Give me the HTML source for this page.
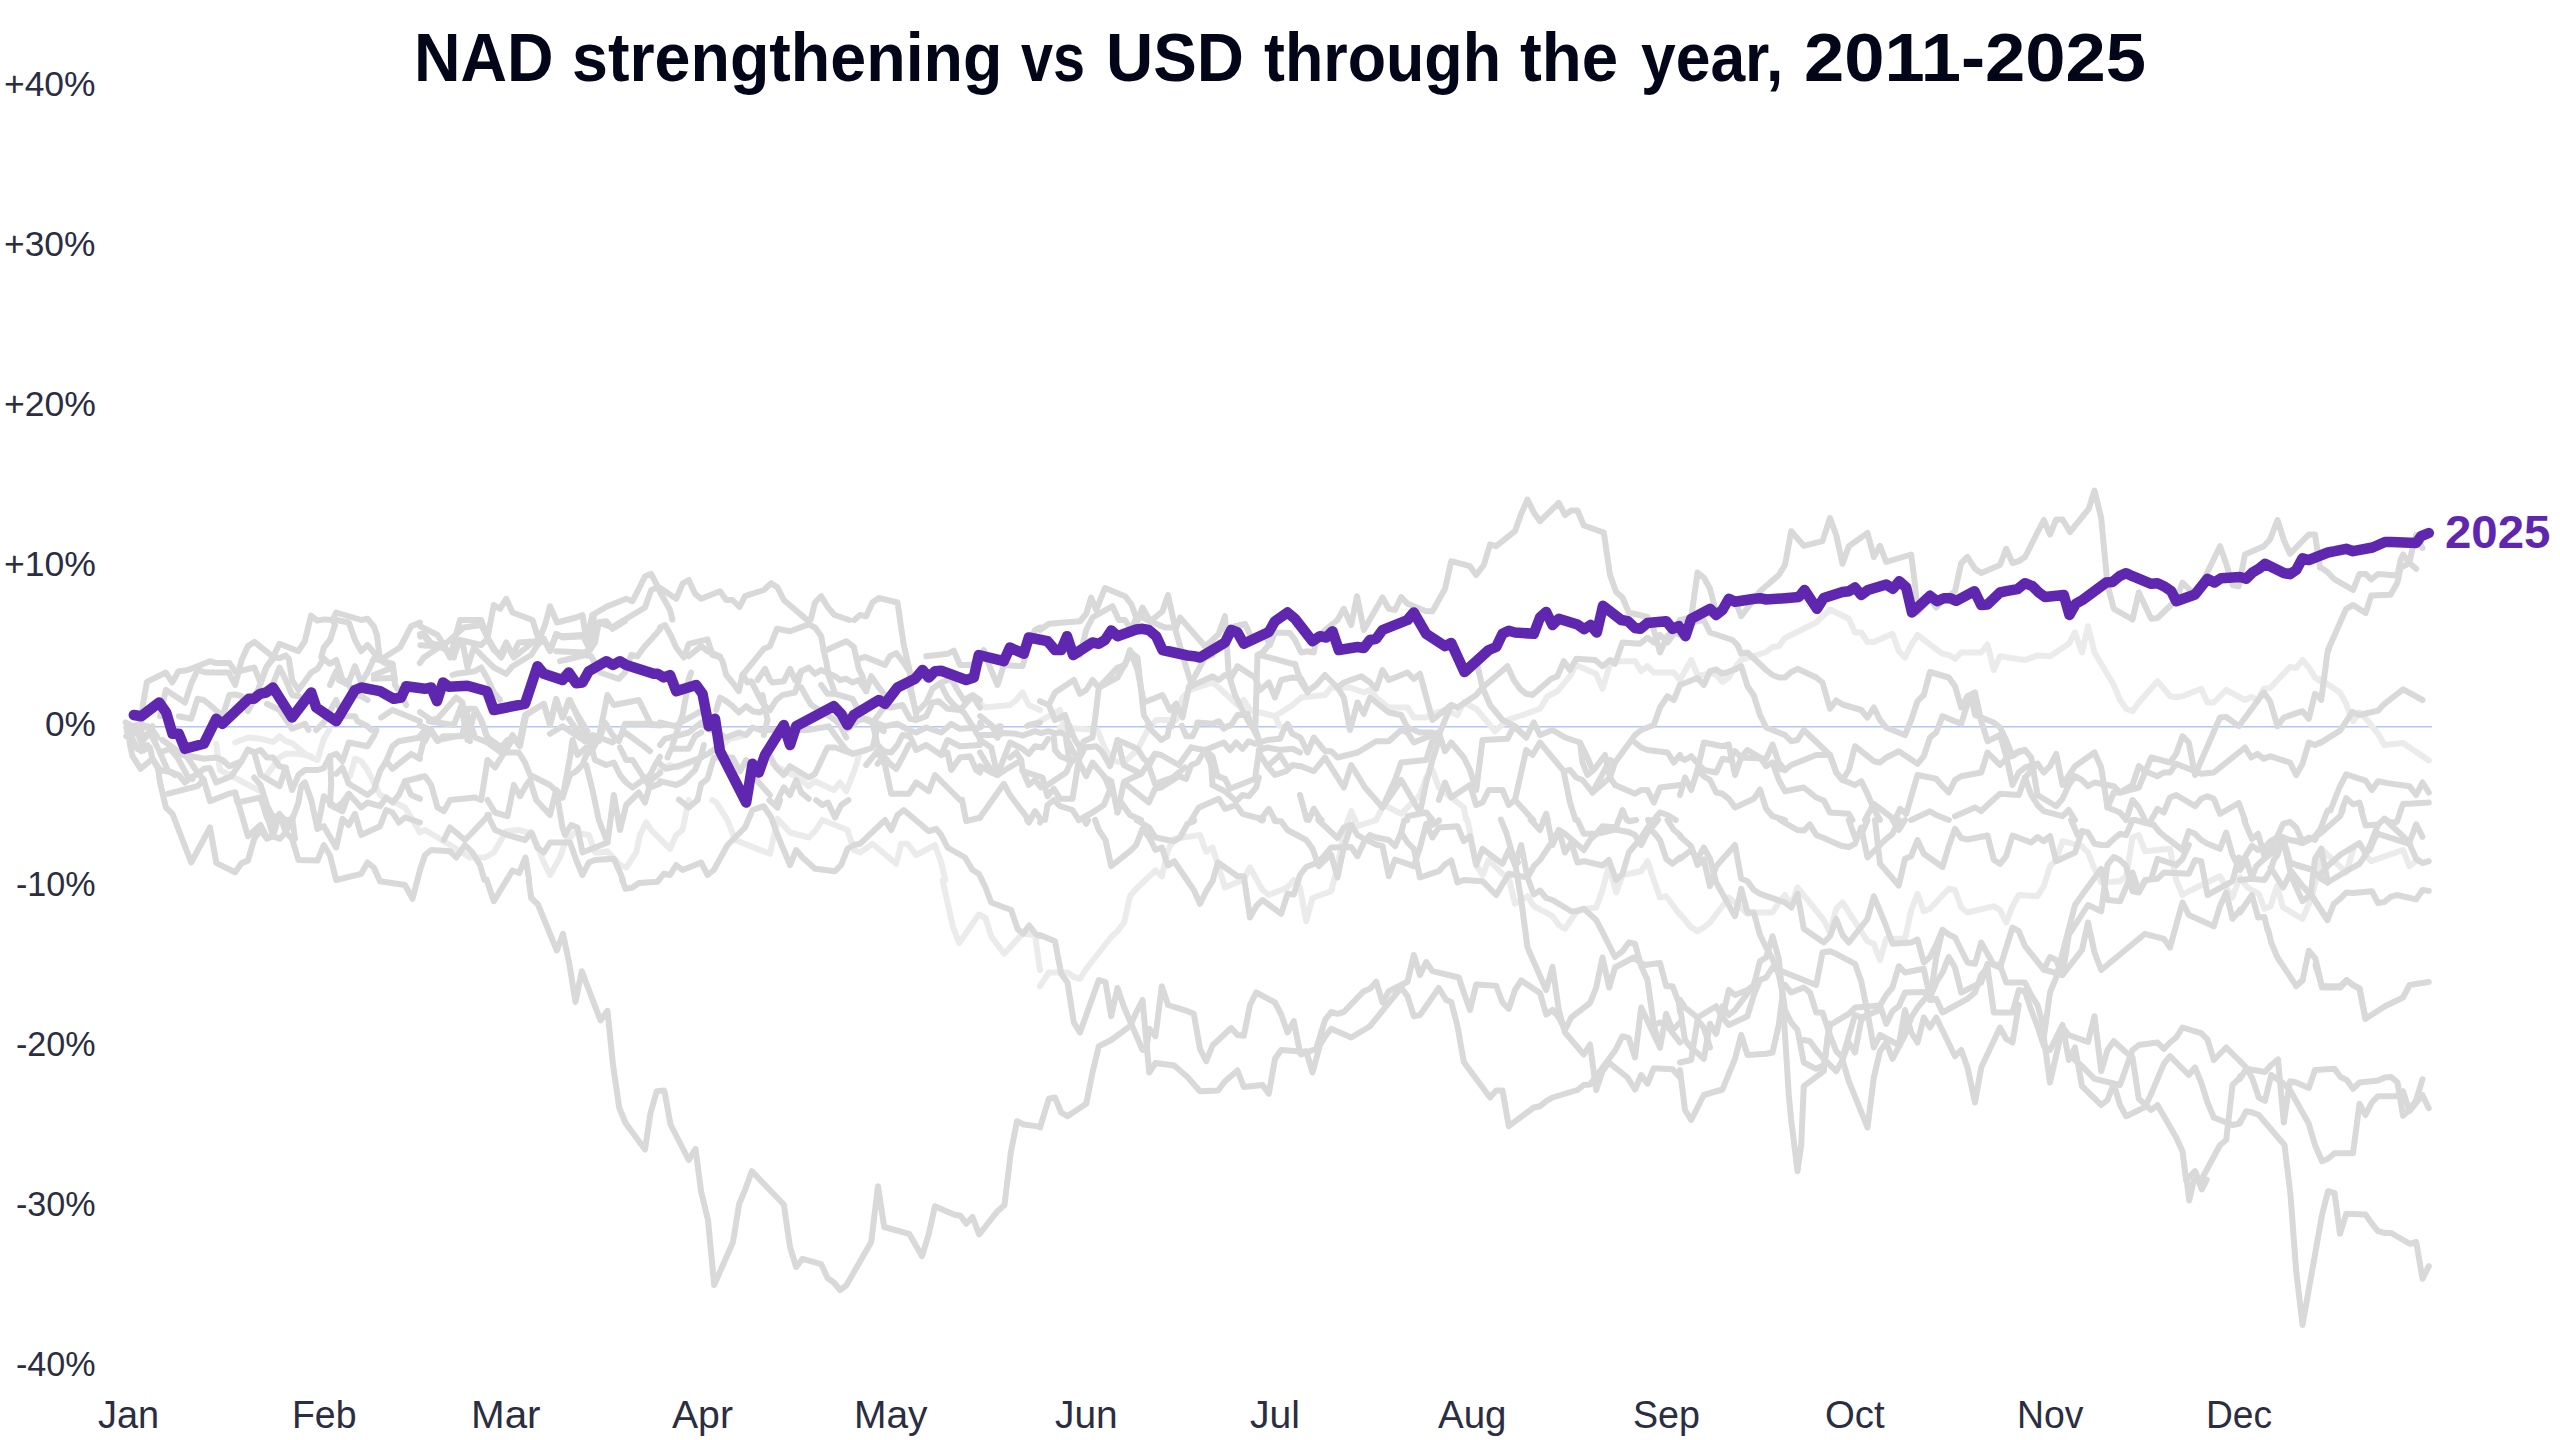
<!DOCTYPE html>
<html lang="en"><head><meta charset="utf-8"><title>NAD strengthening vs USD through the year, 2011-2025</title>
<style>
html,body{margin:0;padding:0;background:#fff;}
body{width:2560px;height:1440px;overflow:hidden;position:relative;font-family:"Liberation Sans",sans-serif;}
#chart{position:absolute;left:0;top:0;width:2560px;height:1440px;}
h1{margin:0;padding:0;font-size:0;font-weight:700;}
.t{position:absolute;display:block;line-height:1;white-space:nowrap;transform-origin:0 0;}
h1 .t{font-weight:700;color:#020618;}
.yl{color:#2b2d42;font-weight:400;}
.xl{color:#2b2d42;font-weight:400;}
.lab{color:#5f27b0;font-weight:700;}
svg path,svg polyline{fill:none;stroke-linejoin:round;stroke-linecap:round;}
.g{stroke:#d9d9d9;stroke-width:6.0;}
.gl{stroke:#ebebeb;stroke-width:6.0;}
.p{stroke:#5f27b0;stroke-width:10.5;}
</style></head><body>
<svg id="chart" width="2560" height="1440" viewBox="0 0 2560 1440">
<line x1="128" y1="726.8" x2="2432" y2="726.8" stroke="#b3c5fb" stroke-width="1.6"/>
<g class="gl">
<path d="M942.6 880.4 L953 927 L959.2 943 L978.8 914.5 L985.5 918 L991.2 936.2 L1004.2 953.8 L1022.5 933.8 L1035 935 L1040 970"/>
<path d="M235.2 742.5 L247.9 737.5 L260.6 738.8 L273.1 741.9 L279.5 736.2 L285.8 741.2 L292.1 743.1 L305 753.8 L311.2 757.5 L317.5 760 L323.8 738.8 L329.5 729.6"/>
<path d="M216.2 743.8 L220 770 L229.4 775 L260.6 791.2"/>
<path d="M266.9 775 L279.5 757.5 L285.8 753.8 L298.4 753.8 L311.2 756.2"/>
<path d="M350 776.2 L355 758.8 L361.2 761.2 L367.5 770 L380 795 L405 807.5 L411.2 817.5 L420 832.5"/>
<path d="M640 835 L646.2 822.5 L651.2 830 L670 848.8 L676.2 835 L682.5 830 L688.8 800M712.3 800.2 L716.2 802.5 L727.5 820 L735 840 L770 853.8 L777.5 818.8 L790 832.5 L808.8 837.5 L815 831.2 L822.5 820 L847.5 830 L853.8 850 L860 852.5 L872.5 843.8 L896.2 863.8 L901.2 843.8 L907.5 843.8 L916.2 855 L935 845 L941.2 862.5 L945.3 879.8"/>
<path d="M419.6 832.1 L425 830 L462.5 852.5 L470 857.5 L485 857.5 L493.8 852.5 L506.2 831.2 L518.8 830 L532.5 833.8 L543.8 862.5 L550 875 L560 857.5 L565 842.5 L575 832.5 L588.8 835 L595 852.5 L600 852.5 L607.5 851.2 L620 865 L626.2 867.5 L636.2 852.5 L640 835"/>
<path d="M979.9 703.4 L985 707.5 L1010 705 L1016.2 700 L1022.5 692.5 L1028.8 705 L1040 710"/>
<path d="M1040 721.2 L1060 710 L1064 726.2M1151.2 726 L1156.2 720 L1176.2 720 L1182.5 697.5 L1190 690 L1212.5 682.5 L1218.8 687.5 L1237.5 705 L1243.8 700 L1250 710 L1275 716.2 L1279.3 725.7"/>
<path d="M1275 716.2 L1292.5 705 L1301.2 697.5 L1325 695 L1331.2 687.5 L1350 687.5 L1363.8 692.5 L1370 690 L1376.2 697.5 L1388.8 707.5 L1407.5 707.5 L1413.8 717.5 L1426.2 717.5 L1432.5 713.8 L1445 710 L1457.5 715 L1463.8 702.5 L1476.2 708.8 L1495 731.2 L1507.5 720 L1526.2 713.8 L1540 708.8 L1547.5 696.2 L1557.5 691.2 L1570 676.2 L1576.2 665 L1590 671.2 L1596.2 673.8 L1602.5 688.8 L1610 663.8 L1616.2 661.2 L1635 661.2 L1641.2 671.2 L1647.5 666.2 L1653.8 672.5 L1673.8 672.5 L1680 680"/>
<path d="M1348.4 819.7 L1351.2 811.2 L1354.9 820.1M1376.2 820 L1382.5 807.5"/>
<path d="M1388.8 807.5 L1401.2 813.8 L1420 795 L1426.2 777.5 L1432.5 770 L1438.8 787.5 L1451.2 797.5 L1463.8 807.5 L1466.1 819.9"/>
<path d="M1040 986.2 L1048.8 972.5 L1067.5 972.5 L1073.8 977 L1080 978.8 L1086.2 968.8 L1111.2 937 L1117.5 931.2 L1124.2 922.5 L1130 896.2 L1136.2 888.8 L1155.5 870.5 L1161.8 876.2 L1168 850 L1174.2 838.8 L1200 835 L1206.2 852 L1212.5 847.5 L1225 887.5 L1243.8 879.5 L1250 867.5 L1262.5 890 L1268.8 895 L1287.5 887.5 L1293.8 880 L1300 887.5 L1306.2 921.2 L1312.5 898 L1331.2 891.2 L1337.5 866.2 L1343.8 832.5 L1348.3 819.6M1354.9 820.1 L1357.5 826.2 L1376.2 820"/>
<path d="M1467.5 820 L1470 832.5 L1476.2 865 L1482.5 875 L1488.8 860 L1502.5 873.8 L1508.8 877.5 L1515 903.8 L1527.5 896.2 L1533.8 906.2 L1552.5 916.2 L1558.8 925 L1565 928.8 L1577.5 910 L1596.2 907.5 L1602.5 890 L1608.8 866.2 L1616.2 892.5 L1622.5 875 L1641.2 871.2 L1647.5 861.2 L1653.8 880 L1660 897.5 L1666.2 896.2 L1680 915"/>
<path d="M1680 680 L1691.2 660 L1697.5 675 L1703.8 675 L1710 672.5 L1716.2 675 L1722.5 682 L1728.8 677.5 L1735 667.5 L1741.2 660 L1766.2 652 L1772.5 647 L1778.8 646.2 L1785 638 L1816.2 622.5 L1830 609.5 L1848.8 618.8 L1855 632.5 L1861.2 632.5 L1867.5 642 L1873.8 642 L1892.5 633.8 L1898.8 651.2 L1905 657.5 L1911.2 645 L1917.5 635 L1942.5 653.8 L1948.8 655 L1955 658.8 L1961.2 652.5 L1981.2 652.5 L1987.5 644.5 L1993.8 670 L2000 656.2 L2025 660 L2037.5 655.5 L2050 656.2 L2068.8 643.8 L2075 632.5 L2082 652.5 L2088 626.2 L2094.5 652.5 L2113.8 685 L2120 700 L2126.2 708.8 L2132.5 711.2 L2138.8 702.5 L2157.5 681.2 L2170 696.2 L2176.2 697 L2182.5 696.2 L2201.2 688.8 L2207.5 702.5 L2213.8 702.5 L2226.2 690 L2245 700 L2251.2 697 L2257.5 700 L2263.8 688.8 L2270 688 L2290 667 L2296.2 668 L2302.5 660 L2308.8 667.5 L2315 677.5 L2320 681.2"/>
<path d="M1680 913.8 L1691.2 927.5 L1697.5 931.2 L1703.8 927.5 L1710 922.5 L1728.8 897.5 L1735 902.5 L1747.5 913.8 L1753.8 912.5 L1772.5 912.5 L1778.8 902.5 L1785 895 L1791.2 905 L1797.5 887.5 L1823.8 920 L1830 932.5 L1836.2 908.8 L1842.5 902.5 L1867.5 941.2 L1873.8 943.8 L1880 960 L1886.2 938.8 L1905 938.8 L1911.2 910 L1917.5 893.8 L1923.8 911.2 L1930 908.8 L1948.8 888.8 L1955 890 L1961.2 907.5 L1967.5 912.5 L1993.8 906.2 L2000 910 L2006.2 922.5 L2012.5 906.2 L2018.8 895 L2037.5 896.2 L2043.8 886.2 L2050 866.2 L2056.2 860 L2062.5 841.2 L2082 846.2 L2088 852.5 L2094.5 868.8 L2101.2 882.5 L2120 881.2 L2126.2 876.2 L2132.5 837.5 L2138.8 835 L2145 851.2 L2170 848.8 L2176.2 880 L2182.5 895 L2188.8 891.2 L2220 876.2 L2226.2 887.5 L2232.5 897.5 L2238.8 880 L2239.6 880.5"/>
<path d="M2319.8 678.9 L2340 692.5 L2346.2 703.8 L2350 715 L2353.1 721.2 L2359.4 712.5 L2365.6 718.1 L2378.1 733.8 L2384.4 745 L2403.1 743.1 L2428.8 760.6"/>
<path d="M2321.2 848.8 L2346.2 872.5 L2353.1 850"/>
<path d="M2365.6 855 L2371.2 861.2 L2403.1 850 L2409.4 866.2 L2416.2 861.2"/>
<path d="M2240 877.5 L2247.5 887.5 L2258.8 893.8 L2264.4 908.8 L2270.6 906.2 L2276.9 886.2 L2283.1 907.5 L2302.5 918.8 L2311.2 898.8 L2317.5 875 L2321.2 852.5"/>
<path d="M660 770 L670 765 L677.5 767.5 L695 761.2 L710 752.5 L722.5 745 L730 738.8 L746.2 735"/>
<path d="M772.5 763.8 L790 773.8 L796.2 776.2 L808.8 786.2 L815 781.2 L833.8 790 L840 782.5 L846.2 791.2 L855 768.8 L858.8 756.2"/>
<path d="M1060 727.5 L1097.5 730 L1103.8 746.2 L1110 757.5 L1115 761.2 L1123.8 762.5 L1137.5 750 L1143.8 737.5 L1148.8 727.5 L1150 726"/>
</g>
<g class="g">
<path d="M486.6 879.7 L493.8 901.2 L506.9 879.6M528.7 880.2 L531.2 898 L538 904.5 L556.8 950.5 L563 933.8 L569.2 963 L575.5 1002 L581.8 971.2 L600.5 1020.5 L607.5 1010.8 L613 1065 L619.2 1107.5 L625.5 1123 L645 1149.5 L650.5 1113 L656.8 1091.2 L663.8 1090.5"/>
<path d="M622 879.7 L625.5 888.8 L632.5 887.5 L638.8 883 L657.5 881.8 L658.6 880.2"/>
<path d="M981.9 880.4 L985 886.2 L991.2 902.5 L1011.2 910 L1017.5 928.8 L1023 933.8 L1029.2 925.5 L1036.2 934.5 L1040 935.9"/>
<path d="M664.5 1091.2 L670.5 1124.5 L688.8 1160 L695.5 1148.8 L701.2 1192 L708 1220 L714.2 1285 L733 1242 L739.2 1203.8 L745.5 1188.8 L751.8 1171.2 L783.8 1204.5 L790 1247 L796.2 1267 L802.5 1258.8 L821.2 1264.2 L827.5 1278 L833.8 1282.5 L840 1290 L846.2 1285.5 L871.2 1242 L878 1186.2 L884.2 1227 L909.2 1233.8 L922 1256.2 L928.8 1233.8 L935 1206.2 L953.8 1214.5 L960.5 1215.8 L966.2 1223.8 L972.5 1217 L979.2 1234.5 L997.5 1211.2 L1004.5 1205 L1010.8 1152.5 L1017 1121.2 L1023.8 1124.5 L1039.5 1126.6"/>
<path d="M2240 1123.2 L2246.2 1111.2 L2252.5 1112.5 L2258.8 1115 L2284.5 1145 L2290.5 1195 L2296.2 1271.2 L2302.5 1325 L2322 1215 L2328 1191.2 L2334.5 1193 L2340 1233.8 L2346.2 1213.8 L2365.5 1214.5 L2372.5 1224.5 L2378 1231.2 L2385 1233 L2391.2 1233 L2410 1243.8 L2416.2 1242 L2422.5 1278.8 L2428.8 1266.2"/>
<path d="M2186.6 1179.7 L2189.2 1200.5 L2193.8 1180.2M2198.1 1179.7 L2201.8 1189.5 L2206.7 1179.8M2240 1078.8 L2246.2 1068.8 L2265 1072 L2271.2 1065 L2278 1059.5 L2283.8 1122.5 L2290 1081.2 L2296.2 1082.5 L2308.8 1088 L2315 1070 L2334.5 1068.8 L2340.5 1077 L2346.8 1080 L2353 1088.8 L2359.5 1082.5 L2378 1080.5 L2385 1077.5 L2391.2 1077 L2397.5 1082.5 L2403 1115.8 L2409.5 1110 L2416.2 1100 L2422.5 1079.2"/>
<path d="M2240 1061.1 L2246.2 1067.5 L2252.5 1078.8 L2258.8 1097.5 L2265 1100.8 L2271.2 1075 L2283.8 1083.8 L2290 1090 L2308.8 1123.8 L2315 1145 L2322 1161.2 L2328 1158.8 L2334.5 1153.2 L2353 1153.2 L2359.5 1103.8 L2365.5 1115 L2371.8 1102.5 L2378 1096.2 L2397.5 1096.2 L2403 1091.2 L2409.5 1111.2 L2422.5 1095 L2428.8 1108.2"/>
<path d="M2296.2 986.2 L2302.5 980"/>
<path d="M2315.5 965 L2322 986.2 L2340.5 986.2 L2346.8 980 L2353 985 L2359.5 988.8 L2365.5 1018.8 L2385 1006.2 L2403 997.5 L2409.5 985 L2428.8 982"/>
<path d="M140.6 726.2 L143.1 703.8 L146.9 681.9 L165.9 672.5 L172.2 682.5 L178.5 671.2 L185 670.6 L191.2 668.8 L210 661.2 L216.4 663.1 L229.4 663.1 L235.6 671.9 L241.6 670.6 L254.4 667.5 L260.6 683.1 L266.9 666.2 L273.1 657.5 L279.5 658.1 L285.8 655.6 L288.8 658.8 L292.1 680 L298.4 690 L311.2 672.5 L317.4 668.8 L323.8 658.8 L330 663.8 L336.2 660 L342.5 680 L348.8 681.9 L355 666.2 L361.2 682.5 L367.5 672.5 L373.8 658.8 L380 660 L386.2 663.8 L392.5 663.8 L395 685 L400 692.5 L406.2 705"/>
<path d="M160 716.2 L165.9 690 L185 702.5 L191.2 683.8 L197.5 670 L203.8 671.9 L210 672.5 L228.8 672.5 L235.2 685 L241.6 660 L247.9 646.2 L254.4 641.9 L273.1 656.9 L279.5 643.8 L298.4 651.2 L304.8 641.2 L311 615.6 L317.4 620.6 L323.8 619.4 L332.5 620 L336.2 612.5 L361.2 620 L367.5 618.8 L373.8 626.2 L376.9 635 L380 660 L400 647.5 L411.2 626.2 L420 622.5"/>
<path d="M332.5 620 L335 625 L330 640"/>
<path d="M330 640 L323.8 647.5 L321.2 657.5 L323.8 658.8"/>
<path d="M336.2 620 L348.8 622.5 L355 640 L361.2 651.2 L367.5 645 L373.8 652.5 L380 660 L392.5 663.8 L395 680"/>
<path d="M373.8 675 L392.5 667.5"/>
<path d="M373.8 678.8 L392.5 678.1"/>
<path d="M178.8 716.2 L191.2 718.8 L197.5 698.8 L203.8 700 L210 705 L222.5 716.2 L229.4 695 L235.2 694.4 L241.6 696.2 L247.9 711.2 L254.4 698.8 L260.6 683.1"/>
<path d="M266.9 703.8 L279.5 710 L292.1 728.8 L305 723.8 L308.4 729.8M316.1 730.1 L323.8 722.5 L336.2 700 L342.5 716.2 L355 716.2 L357.5 721.2 L367.5 726.2 L370.9 729.7"/>
<path d="M381.2 717.5 L392.5 710 L420 721.2"/>
<path d="M128.3 730.4 L130 745 L132.5 756.2 L140.6 768.8 L152.5 758.8 L158.1 768.8 L160 782.5 L165.9 807.5 L172.5 813.8 L191.2 862.5 L210 827.5 L216.4 863.1 L235.2 872.2 L241.6 863.1 L247.9 860.6 L254.2 838.8 L260.6 830 L266.9 838.8 L273.1 836.2 L279.5 838.8 L285.8 832.5 L292.1 838.8 L298.4 860 L317.5 860.6 L323.8 845 L330 855.6 L336.2 880 L361.2 873.8 L367.5 862.5 L373.8 867.5 L380 881.2 L405 885 L412.5 898.8 L420 870"/>
<path d="M152.5 758.8 L160 770 L172.5 772.5 L178.8 775 L185 782.5 L191.2 777.5 L197.5 773.8 L203.8 768.8 L210 768.1 L216.2 782.5 L231.2 776.2 L241.6 761.2 L247.9 749.4 L254.2 752.5 L260.6 750 L266.9 757.5 L273.1 757.5 L279.5 766.2 L285.8 768.1 L292.1 790 L298.4 775 L305 770 L317.5 770 L323.8 768.1 L330 756.2 L336.2 753.8 L342.5 761.2 L348.8 742.5 L367.5 746.2 L373.8 736.2 L376.4 730.1"/>
<path d="M167.5 793.8 L197.5 786.2 L203.8 780 L210 801.2 L228.8 793.8 L235.2 792.5 L237.5 802.5 L260.6 797.5 L266.9 817.5 L273.1 826.2 L279.5 815 L285.8 820 L292.1 820 L298.4 802.5 L301.2 786.2 L305 782.5 L311.2 800 L317.5 828.8 L323.8 796.2 L330 802.5 L336.2 807.5 L342.5 802.5 L348.8 793.8 L361.2 807.5 L367.5 802.5 L380 806.2 L386.2 797.5 L392.5 802.5 L398.8 795 L405 781.2 L420 777.5"/>
<path d="M175 752.5 L185 755 L203.8 758.8 L216.2 757.5 L222.5 760 L229.4 766.2 L241.6 761.2"/>
<path d="M235.2 792.5 L247.9 836.2 L260.6 825 L266.9 837.5 L273.1 836.2"/>
<path d="M254.2 777.5 L260.6 785 L266.9 805 L273.1 817.5 L279.5 815"/>
<path d="M317.5 828.8 L323.8 826.2 L336.2 847.5 L342.5 818.8 L348.8 825 L355 813.8 L361.2 835 L380 826.2 L386.2 810 L392.5 812.5 L398.8 822.5 L405 817.5 L420 822.5"/>
<path d="M254.2 752.5 L260.6 775 L279.5 786.2 L285.8 767.5"/>
<path d="M330 756.2 L331.2 782.5 L330 805 L342.5 811.2 L348.8 793.8"/>
<path d="M336.2 773.8 L342.5 767.5 L348.8 783.8 L367.5 795 L373.8 790 L380 771.2 L386.2 761.2 L392.5 768.8 L411.2 753.8 L420 758.8"/>
<path d="M386.2 761.2 L392.5 746.2 L398.8 741.2 L420 737.5"/>
<path d="M405 781.2 L411.2 795 L420 798.8"/>
<path d="M592.5 615 L607.5 606.2 L626.2 598.8 L632.5 601.2 L638.8 588.8 L645 576.2 L651.2 573.8 L657.5 586.2 L676.2 598.8 L682.5 583.8 L688.8 580 L695 593.8 L701.2 598.8 L720 591.2 L726.2 600 L732.5 600 L739.5 607 L745 596.2 L763.8 590 L771.2 583.2 L777.5 587.5 L783.8 600 L807 619.9M810.7 619.6 L815 602.5 L821.2 596.2 L828 607.5 L834.5 615 L849.3 620M854.4 620 L860 615 L866.2 616.2 L872.5 602.5 L878.8 598 L897.5 602.5 L900.1 620.3"/>
<path d="M592.5 637.5 L598.8 622.5 L612.5 627.5 L620 622.5 L645 607.5 L651.2 590 L657.5 587.5 L670 610 L672.4 619.6"/>
<path d="M420.1 626.3 L437.5 635 L443.8 645 L450 657.5 L460 620 L481.2 620 L487.5 637.5 L493.8 605 L500 608.8 L506.2 598.8 L512.5 612.5 L532.5 620 L538.8 640 L545 625 L550 606.2 L557 622.5 L576.2 617.5 L582.5 615 L586.2 640 L592.5 615"/>
<path d="M420.3 636.6 L425 635 L432.5 645 L443.8 645 L450 640 L463.8 627.5 L481.2 625 L487.5 637.5 L495 650 L501.2 657.5 L507.5 645 L513.8 657.5 L520 652.5 L532.5 642.5 L545 641.2 L550 650 L556.2 635 L562.5 636.2 L582.5 635 L590 650 L595 642.5 L598.8 622.5"/>
<path d="M980.1 658.8 L983.8 650 L990 667.5 L997.5 685 L1003.8 665 L1022.5 666.2 L1028.8 645 L1035 630 L1040 627.5"/>
<path d="M420 870 L425 855 L431.2 850 L450 851.2 L456.2 857.5 L465 845 L472.5 852.5 L480 865 L484.4 879.8M506.9 879.6 L512.5 870.5 L519.2 873 L525.5 857.5 L529.2 879.7"/>
<path d="M443.8 840 L450 827.5 L465 840 L470 835 L488.8 815"/>
<path d="M537.5 847.5 L543.8 852.5 L550 842.5 L570 842.5 L576.2 860 L582.5 875 L588.8 862.5 L595 860 L613.8 858.8 L620 872.5 L622.8 879.7M658.8 879.8 L663.8 873.8 L670 875 L676.2 865 L682.5 870 L701.2 862.5 L707.5 875 L713.8 870 L727.5 845 L745 827.5 L752.5 810 L763.8 806.2 L771.2 817.5 L777.5 835 L790 865 L796.2 850 L802.5 857.5 L815 868.8 L835 871.2 L841.2 865 L847.5 848.8 L853.8 845 L860 843.8 L885 820 L891.2 830 L897.5 815 L903.8 810 L928.8 831.2 L936.2 828.8 L941.2 835 L947.5 847.5 L965 857.5 L972.5 870 L978.8 873.8 L982 879.8"/>
<path d="M420 712.1 L431.2 720 L437.5 718.8 L456.2 697.5 L462.5 702.5 L467.5 740 L475 710 L481.2 720 L487.5 737.5 L501.2 747.5 L507.5 740 L513.8 737.5 L520 746.2 L526.2 715 L543.8 703.8 L550 725 L556.2 700 L562.5 717.5 L570 700 L582.5 727.5 L590 742.5 L595 760 L606.2 765 L613.8 762.5 L620 775 L626.2 782.5 L632.5 787.5 L650 775 L655 765 L660 756.7M980.2 716.2 L991.2 725 L991.7 725.9"/>
<path d="M419.6 725.4 L431.2 730 L437.5 740 L462.5 735 L467.5 715 L475 737.5 L487.5 742.5 L501.2 752.5 L518.8 752.5 L525 762.5 L530 775 L550 785 L562.5 797.5 L570 775 L576.2 771.2 L582.5 765 L586.2 755 L592.5 750 L598.8 737.5 L607.5 695 L613.8 705 L638.8 700 L645 712.5 L651.2 725 L660.1 725.6"/>
<path d="M420 736 L425 730 L431.2 732.5 L437.5 740"/>
<path d="M420 755.2 L425 735 L431.2 730"/>
<path d="M420.2 777 L425 776.2 L431.2 785 L437.5 807.5 L443.8 811.2 L450 800 L475 797.5 L481.2 800 L487.5 760 L495 767.5 L501.2 757.5 L507.5 747.5 L513.8 737.5"/>
<path d="M487.5 800 L495 812.5 L507.5 816.2 L513.8 785 L520 796.2 L526.2 785 L530 780 L536.2 800 L550 815 L556.2 790 L562.5 797.5 L570 757.5 L572.5 740 L577.5 755 L586.2 747.5"/>
<path d="M487.5 815 L495 830 L507.5 835 L525 840 L531.2 832.5 L537.5 847.5"/>
<path d="M556.2 790 L562.5 827.5 L565 835 L571.2 825 L577.5 827.5 L582.5 852.5 L607.5 842.5 L613.8 795 L620 830 L626.2 805 L638.8 792.5 L645 802.5 L651.2 780 L660.2 772.8"/>
<path d="M586.2 765 L592.5 790 L598.8 820 L607.5 842.5"/>
<path d="M620 747.5 L626.2 760 L632.5 760 L638.8 770 L650 787.5 L659.8 783.6M679 799.7 L688.8 807.5 L697.5 800M769.4 800.2 L777.5 807.5 L780.1 800.1M816.1 800.2 L822.5 805 L828 802.5 L835 817.5 L841.2 805 L848.6 800.1M962 799.8 L966.2 821.2 L980.3 817.5M1027.1 820.1 L1028.8 822.5 L1030.3 820"/>
<path d="M980.1 722.7 L981.9 726.2M990.6 725.8 L991.2 725 L992.7 726.2M1027.1 726 L1028.8 725 L1040 722.5"/>
<path d="M1337.5 620 L1343.8 608.8 L1351.2 625 L1357 596.2 L1363.8 630 L1382.5 597.5 L1388.8 608.8 L1395 610 L1401.2 597 L1407.5 603.8 L1426.2 611.2 L1432.5 611.2 L1445 588.8 L1451.2 561.2 L1470 566.2 L1476.2 575 L1483.8 565 L1490 544.5 L1496.2 546.2 L1515 531.2 L1521.2 513.8 L1527.5 499.5 L1533.8 512.5 L1540 521.2 L1558.8 503 L1565 515 L1571.2 510.5 L1577.5 510.5 L1583.8 525.5 L1603.8 532.5 L1610 575 L1616.2 592 L1622.5 597.5 L1628.8 612.5 L1647.5 617 L1653.8 630 L1660 652.5 L1667.5 636.2 L1675 627.5 L1680 620"/>
<path d="M1040 630 L1048.8 623.8 L1080 621.2 L1086.2 613.8 L1091.2 597.5 L1096.2 610 L1105 588 L1125 596.2 L1131.2 603.8 L1137.5 621.2 L1142.5 607.5 L1150 621.2 L1155 617.5 L1162.5 611.2 L1168 595 L1176.2 632.5 L1182.5 655 L1190 680"/>
<path d="M1080 655 L1086.2 630 L1092.5 617.5 L1112.5 606.2 L1118.8 620 L1125 620 L1131.2 630 L1137.5 615 L1150 621.2 L1165 627.5 L1176.2 627.5 L1180 617.5 L1205 646.2 L1212.5 640 L1218.8 633.8 L1225 616.2 L1228.8 675 L1235 695 L1247.5 720 L1251.1 725.8"/>
<path d="M1228.8 632.5 L1235 626.2 L1245 623.8 L1252.5 640 L1265 635 L1270 645 L1275 632.5 L1290 633 L1295 640 L1301.2 652.5 L1307.5 651.2 L1313.8 652.5 L1316.2 640 L1325 630 L1337.5 620"/>
<path d="M1040 701.2 L1048.8 705 L1055 720 L1065 715 L1068.9 726.1M1094.2 726.1 L1098.8 687.5 L1117.5 677.5 L1131.2 652.5 L1137.5 657.5 L1143.8 715 L1150 725 L1150.7 725.7M1171.8 726.2 L1176.2 703.8 L1182.5 717.5 L1188.8 687.5 L1205 657.5 L1212.5 655"/>
<path d="M1048.8 705 L1055 692.5 L1073.8 680 L1080 693.8 L1086.2 690 L1092.5 680 L1098.8 687.5 L1117.5 667.5 L1125 665 L1130 650 L1137.5 670 L1143.8 702.5 L1162.5 695 L1170 710 L1176.2 703.8"/>
<path d="M1188.8 687.5 L1212.5 676.2 L1218.8 680 L1225 675 L1231.2 677.5 L1237.5 666.2 L1255 677.5 L1260 690 L1268.8 682.5 L1275 697.5 L1281.2 680 L1292.5 677.5 L1301.2 678.8 L1307.5 691.2 L1316.2 685 L1325 675 L1337.5 687.5 L1343.8 682.5 L1361.2 676.2 L1370 682.5 L1376.2 688.8 L1382.5 670 L1388.8 680 L1407.5 672.5 L1413.8 678.8 L1420 673.8 L1432.5 720 L1451.2 705 L1457.5 707.5 L1476.2 695 L1482.5 687.5 L1507.5 666.2 L1513.8 680 L1520 688.8 L1526.2 693.8 L1532.5 695 L1551.2 678.8 L1557.5 676.2 L1563.8 661.2 L1570 670 L1576.2 658.8 L1595 660 L1602.5 666.2 L1610 660 L1615 663.8 L1622.5 642.5 L1640 643.8 L1647.5 637.5 L1653.8 642.5 L1660 635 L1667.5 642.5 L1675 632.5 L1680 635"/>
<path d="M1255.4 725.6 L1257.5 655 L1262.5 652.5 L1268.8 645"/>
<path d="M1260 655 L1292.5 663.8 L1295 663.8 L1301.2 682.5 L1307.5 692.5"/>
<path d="M1337.5 687.5 L1343.8 697.5 L1350 730 L1357.5 702.5 L1363.8 713.8 L1370 697.5 L1388.8 712.5 L1401.2 715 L1407.5 727.5 L1420 732.5 L1432.5 732.5 L1438.8 735 L1451.2 705"/>
<path d="M1463.8 672.5 L1476.2 660 L1482.5 687.5 L1490 705 L1502.5 720 L1515 726.2 L1526.2 737.5 L1533.8 722.5 L1540 735 L1552.5 730 L1565 737.5 L1580 742.5 L1587.5 757.5 L1592.5 770"/>
<path d="M1592.5 792.5 L1610 777.5 L1615 762.5 L1635 735 L1641.2 730 L1653.8 725 L1660 707.5 L1667.5 696.2 L1673.8 700 L1680 685"/>
<path d="M1635 742.5 L1641.2 747.5 L1647.5 750 L1667.5 752.5 L1673.8 762.5 L1680 755"/>
<path d="M1196.4 726.2 L1197.5 722.5 L1212.5 723.8 L1218.8 721.2 L1222.5 725.8M1229.7 725.9 L1231.2 725 L1237.5 715 L1247.5 713.8 L1251.4 726.1M1286.8 725.6 L1287.5 723.8 L1288.9 726.1M1299.7 737.6 L1301.2 738.8 L1307.5 752.5 L1313.8 737.5 L1325 751.2 L1331.2 751.2 L1337.5 757.5 L1357.5 752.5 L1370 745 L1376.2 741.2 L1388.8 741.2 L1401.2 730 L1407.5 732.5 L1413.8 742.5 L1432.5 735 L1438.8 732.5 L1445 751.2 L1451.2 742.5 L1463.8 757.5 L1470 770 L1476.2 790 L1482.5 740 L1507.5 738.8 L1513.8 726.2 L1526.2 737.5"/>
<path d="M1300.3 766.1 L1301.2 766.2 L1313.8 771.2 L1325 757.5 L1343.8 787.5 L1351.2 765 L1365 787.5 L1382.5 807.5 L1395 780 L1401.2 762.5 L1426.2 760 L1432.5 740 L1438.8 732.5"/>
<path d="M1300 795 L1306.7 819.7M1308.7 819.9 L1313.8 808.8 L1320 818.8 L1321.5 819.9"/>
<path d="M1382.5 807.5 L1401.2 780 L1420 812.5 L1426.2 782.5 L1432.5 760 L1438.8 740"/>
<path d="M1438.8 800 L1445 782.5 L1451.2 797.5 L1470 785 L1476.2 805 L1482.5 802.5 L1488.8 790 L1502.5 790 L1508.8 805 L1515 800 L1526.2 750 L1532.5 755 L1540 742.5 L1563.8 771.2 L1570 770 L1576.2 777.5 L1582.5 780 L1592.5 792.5 L1610 760 L1615 762.5"/>
<path d="M1515 800 L1533.4 820.3M1543.5 819.8 L1546.2 813.8 L1547.6 819.6"/>
<path d="M1563.8 772.5 L1570 802.5 L1575.4 819.6"/>
<path d="M1580 742.5 L1582.5 762.5 L1587.5 775 L1593.8 770 L1605 755 L1610 777.5 L1615 785 L1635 793.8 L1641.2 790 L1647.5 790 L1653.8 802.5 L1660 787.5 L1680 785"/>
<path d="M1618.9 820.1 L1622.5 810 L1626.5 819.7M1653.8 820 L1660 812.5 L1667.5 815 L1675.8 820"/>
<path d="M1407.1 820.2 L1407.5 816.2 L1426.2 812.5 L1432.5 820"/>
<path d="M1040 1127.5 L1048.8 1098.8 L1055 1097.5 L1061.2 1112.5 L1067.5 1116.2 L1086.2 1103.8 L1092.5 1072.5 L1098.8 1046.2 L1111.2 1040 L1130 1026.2 L1136.2 1012.5 L1142.5 1000 L1149.2 1072.5 L1155.5 1063 L1174.2 1065.5 L1187.5 1077 L1200 1091.2 L1218 1090.5 L1225 1081.2 L1237.5 1070.5 L1243.8 1087 L1262.5 1085 L1268.8 1093.8 L1275 1058.8 L1281.2 1050 L1298.8 1051.2 L1301.2 1054.5 L1316.2 1048.8 L1325 1020 L1331.2 1012 L1337.5 1013.8 L1343.8 1012 L1363.8 991.2 L1370 988.8 L1376.2 981.8 L1382.5 1002.5 L1388.8 991.2 L1407.5 981.8 L1413.8 955 L1420 975 L1426.2 962 L1432.5 971.2 L1458.8 977.5 L1463.8 992.5 L1470 1010 L1476.2 984.5 L1496.2 985.8 L1502.5 1002.5 L1508.8 1008.8 L1515 990 L1521.2 980.5 L1540 993 L1546.2 1014.5 L1552.5 1010 L1558.8 1017.5 L1565 1030 L1571.2 1017.5 L1590 1003 L1596.2 987.5 L1602.5 957.5 L1609.2 987.5 L1615 967.5 L1633.8 957.5 L1640 962.5 L1645 965 L1660 963 L1666.2 986.2 L1672.5 986.2 L1678.8 1002.5 L1680 1012.5"/>
<path d="M1040 935 L1055 941.2 L1061.2 973.8 L1067.5 982.5 L1073.8 1022.5 L1080 1032.5 L1098.8 980 L1105.5 982 L1111.2 1016.2 L1117.5 988 L1124.2 1007.5 L1142.5 1050 L1146.2 1050 L1149.2 1028.8 L1155.5 1036.2 L1161.8 986.2 L1168 1005 L1187.5 1011.2 L1193.8 1013.8 L1200 1048.8 L1206.2 1061.2 L1212.5 1045.5 L1231.2 1028 L1237.5 1035 L1243.8 1035.8 L1250 1005 L1256.2 992.5 L1275 1002.5 L1281.2 1014.5 L1287.5 1032.5 L1293.8 1021.2 L1300 1052.5 L1306.2 1051.2 L1312.5 1072.5 L1320 1045 L1326.2 1035 L1331.2 1028.8 L1351.2 1037.5 L1370 1026.2 L1401.2 987.5 L1407.5 996.2 L1413.8 1016.2 L1420 1015 L1438.8 988 L1446.2 1000 L1451.2 1002 L1457.5 1026.2 L1463.8 1062 L1490 1097.5 L1496.2 1090.5 L1502.5 1090.5 L1508.8 1126.2 L1533.8 1107.5 L1540 1106.2 L1546.2 1101.2 L1552.5 1097.5 L1577.5 1090 L1583.8 1085 L1590 1084.5 L1596.2 1076.2 L1615 1050.8 L1622.5 1036.2 L1628.8 1038.2 L1635 1057.5 L1641.2 1007.5 L1660 1047.5 L1666.2 1013.8 L1672.5 1030 L1680 1022.5"/>
<path d="M1500.9 819.6 L1506.2 832.5 L1515 862.5 L1521.2 900 L1527.5 947.5 L1546.2 990 L1552.5 967 L1558.8 1010 L1565 1032.5 L1583.8 1054.5 L1590 1044.5 L1596.2 1090 L1602.5 1071.2 L1608.8 1062.5 L1627.5 1077.5 L1635 1089.5 L1641.2 1075 L1647.5 1083.8 L1653.8 1068.2 L1672.5 1069.2 L1680 1077.5"/>
<path d="M1527.5 877.5 L1533.8 894.5 L1540 890.5 L1546.2 898 L1552.5 900 L1571.2 911.2 L1577.5 911.2 L1583.8 908.8 L1596.2 920 L1602.5 932 L1615 957 L1622.5 951.2 L1628.8 942.5 L1635 943.8 L1641.2 966.2 L1647.5 980 L1653.8 1025 L1660 1047.5"/>
<path d="M1653.8 1025 L1660 1022.5 L1666.2 1025 L1680 1042.5"/>
<path d="M1040 822.5 L1041.3 819.9M1084.3 820.3 L1086.2 823.8 L1088.2 820.3M1095.1 819.9 L1098.8 830 L1105.5 840 L1111.2 866.2 L1130 851.2 L1136.2 845 L1142.5 828.8 L1149.2 837.5 L1155.5 850 L1161.8 847.5 L1168 865.5 L1174.2 861.2 L1193.8 890 L1200 903.8 L1206.2 891.2 L1212.5 881.2 L1218 862.5 L1237.5 876.2 L1243.8 876.2 L1250 917.5 L1256.2 906.2 L1262.5 900 L1281.2 913.8 L1287.5 893.8 L1293.8 894.5 L1300 875 L1306.2 867 L1318.8 862 L1331.2 847.5 L1351.2 847 L1357.5 856.2 L1363.8 842.5 L1370 835 L1376.2 837.5 L1388.8 840 L1395 846.2 L1401.2 832.5 L1407.5 842.5 L1413.8 848.8 L1420 877.5 L1438.8 871.2 L1445 864.5 L1451.2 860.5 L1457.5 882.5 L1463.8 880 L1482.5 881.2 L1496.2 895 L1508.8 873.8 L1515 875 L1527.5 877.5"/>
<path d="M1136.7 820.2 L1149.2 827.5 L1155.5 837.5 L1174.2 841.2 L1180 837.5 L1187.5 823.8 L1193.8 821.2 L1194.2 820.4M1260.6 820 L1262.5 820.5 L1263 819.7M1274.5 820.4 L1275 821.2 L1281.2 821.2 L1287.5 830 L1306.2 840 L1312.5 848.8 L1318.8 866.2 L1325 860 L1331.2 855 L1337.5 877.5 L1343.8 847.5 L1351.2 825 L1357.5 835 L1363.8 838.8 L1376.2 844.5 L1382.5 846.2 L1388.8 876.2 L1395 859.5 L1413.8 866.2 L1420 847.5 L1426.2 823.8 L1432.5 837.5 L1438.8 827.5 L1457.5 826.2 L1463.8 841.2 L1470 836.2 L1476.2 865 L1482.5 848.8 L1502.5 863.8 L1508.8 850 L1515 865 L1518 862.5"/>
<path d="M1318.3 819.7 L1318.8 820.5 L1337.5 838 L1343.8 827.5 L1351.2 825"/>
<path d="M1429.8 819.6 L1432.5 825 L1438.8 821.2 L1438.9 820.3"/>
<path d="M1401.2 832.5 L1404.3 820.3"/>
<path d="M1530.8 819.9 L1540 830 L1543.8 820.1M1547.4 819.6 L1552.5 845 L1558.8 830 L1565 852.5 L1571.2 842.5 L1577.5 862.5 L1583.8 861.2 L1602.5 865.5 L1608.8 860 L1616.2 880 L1622.5 873.8 L1628.8 852.5 L1641.2 837.5 L1647.5 827.5 L1653.8 832.5 L1660 840 L1666.2 858.8 L1672.5 863.8 L1680 857.5"/>
<path d="M1515 865 L1521.2 845 L1527.5 877.5 L1533.8 866.2 L1540 860 L1552.5 841.2 L1558.8 830 L1565 833.8 L1583.8 850 L1590 840 L1596.2 833.8 L1602.5 832.5 L1615 829.5 L1628.8 832 L1635 835 L1641.2 845 L1647.5 832.5 L1653.8 825 L1658.1 819.8M1667.5 820 L1673.8 830 L1680 835"/>
<path d="M1577.5 820 L1583.8 833.8 L1596.2 833.8 L1602.5 826.2 L1616.2 827.5 L1618.6 819.9M1628.4 820.4 L1628.8 821.2 L1636.2 820M1648.1 819.8 L1650 825 L1650.7 820.2"/>
<path d="M1680 620 L1691.2 617.5 L1697.5 572.5 L1703.8 577.5 L1710 588.8 L1716.2 612.5 L1735 600 L1741.2 616.2 L1760 591.2 L1778.8 575 L1785 565 L1791.2 531.2 L1803.8 545.8 L1822.5 541.2 L1830 518 L1836.2 535 L1842.5 563.8 L1848.8 546.2 L1867.5 533 L1873.8 557 L1880 545.8 L1886.2 562 L1911.2 554.5 L1915 585 L1917.5 612.5 L1930 598.8 L1936.2 607.5 L1942.5 601.2 L1955 591.2 L1961.2 563 L1967.5 557 L1975 568.8 L1981.2 573 L2000 565 L2006.2 548.8 L2012.5 563 L2018.8 561.2 L2025 557 L2043.8 520 L2050 534.5 L2056.2 519.5 L2062.5 519.5 L2070 532 L2088.8 508.8 L2094.5 490.5 L2101.2 518 L2107.5 585 L2113.8 608.8 L2132.5 619.5 L2138.8 592.5 L2151.2 618.8 L2157.5 618 L2176.2 600 L2182.5 582.5 L2188.8 588.8 L2195 595 L2201.2 585 L2220 546.2 L2226.2 563.8 L2232.5 585 L2238.8 586.2 L2245 554.5 L2263.8 546.2 L2270 539.5 L2277.5 520 L2283.8 540 L2290 553.8 L2308.8 534.5 L2315 534.5 L2320 567.5"/>
<path d="M1680 685 L1697.5 678 L1703.8 685 L1710 671.2 L1716.2 669.5 L1722.5 673.8 L1735 669.5 L1741.2 666.2 L1747.5 686.2 L1753.8 695.5 L1760 715 L1766.2 727.5 L1785 735 L1791.2 741.2 L1797.5 740 L1803.8 730 L1830 755 L1836.2 772.5 L1842.5 780 L1848.8 770 L1855 746.2 L1873.8 761.2 L1880 762.5 L1886.2 757.5 L1898.8 751.2 L1917.5 763.8 L1923.8 756.2 L1930 737.5 L1936.2 732.5 L1942.5 716.2 L1961.2 723.8 L1967.5 703.8 L1971.2 696.2 L1975 715 L1993.8 722.5 L2000 727.5 L2006.2 740 L2012.5 756.2 L2018.8 752.5 L2025 750 L2031.2 757.5 L2037.5 795"/>
<path d="M1691.2 622.5 L1703.8 620 L1710 632.5 L1732.5 640 L1737.5 645 L1741.2 653.8 L1747.5 652.5 L1766.2 670 L1772.5 675 L1778.8 677.5 L1785 677.5 L1791.2 672 L1797.5 668.8 L1816.2 677.5 L1822.5 682.5 L1830 708.8 L1836.2 700.5 L1842.5 704.5 L1861.2 710 L1867.5 717.5 L1873.8 707.5 L1880 720 L1886.2 727.5 L1905 735 L1911.2 720 L1917.5 701.2 L1923.8 695 L1930 672 L1948.8 677.5 L1955 686.2 L1961.2 707.5 L1967.5 696.2 L1975 692.5 L1981.2 721.2 L1987.5 741.2 L2000 735 L2006.2 756.2 L2012.5 785 L2018.8 772.5 L2025 767.5 L2037.5 763.8 L2043.8 772.5 L2050 766.2 L2056.2 753.8 L2062.5 785 L2075 766.2 L2094.5 752.5 L2101.2 767.5 L2107.5 807.5 L2113.8 792.5 L2120 792.5 L2138.8 787.5 L2145 772.5 L2151.2 757.5 L2170 762.5 L2176.2 753.8 L2182.5 736.2 L2188.8 742.5 L2195 775 L2220 717.5 L2226.2 717 L2238.8 726.2 L2263.8 692.5 L2270 701.2 L2277.5 726.2 L2283.8 717.5 L2302.5 711.2 L2308.8 718.8 L2315 693.8 L2320 697.5"/>
<path d="M1680 757.5 L1685 760 L1691.2 756.2 L1703.8 770 L1716.2 772.5 L1722.5 758.8 L1728.8 760 L1735 751.2 L1741.2 757.5 L1747.5 750 L1760 757.5 L1766.2 766.2 L1772.5 762.5 L1778.8 768.8 L1785 770 L1791.2 765 L1816.2 755 L1830 755"/>
<path d="M1680 795 L1685 777.5 L1691.2 790 L1697.5 770 L1703.8 742.5 L1722.5 746.2 L1728.8 744.5 L1735 775 L1741.2 757.5 L1766.2 758.8 L1772.5 744.5 L1778.8 762.5 L1785 770"/>
<path d="M1697.5 770 L1703.8 776.2 L1710 780 L1716.2 792.5 L1722.5 793.8 L1728.8 798.8 L1735 807.5 L1753.8 798.8 L1760 789.5 L1766.2 808.8 L1772.5 816.2 L1785 820"/>
<path d="M1772.5 762.5 L1778.8 780 L1785 791.2 L1803.8 787.5 L1810 792.5 L1816.2 797.5 L1823.8 800.5 L1830 812.5 L1848.8 813.8 L1852.5 820"/>
<path d="M1830 755 L1836.2 772.5 L1842.5 780 L1855 785 L1861.2 781.2 L1867.5 793.8 L1873.8 808.8 L1880 820"/>
<path d="M1865 820 L1873.8 803.8 L1895 820"/>
<path d="M1895 820 L1900 808.8 L1906.2 813.8 L1917.5 775 L1936.2 778.8 L1942.5 786.2 L1948.8 792.5 L1955 780 L1961.2 776.2 L1981.2 772.5 L1987.5 752.5 L2000 765 L2006.2 758.8 L2018.8 751.2 L2025 750"/>
<path d="M1911.2 820 L1930 811.2 L1936.2 815 L1948.8 820"/>
<path d="M1955 816.2 L1975 807.5 L1981.2 811.2 L1987.5 805 L2000 793.8 L2018.8 795 L2025 777.5 L2037.5 763.8"/>
<path d="M2025 777.5 L2031.2 795 L2037.5 805 L2043.8 811.2 L2062.5 816.2 L2068.8 810 L2075 820"/>
<path d="M2037.5 795 L2056.2 806.2 L2062.5 798.8 L2068.8 785 L2075 776.2 L2082 780 L2088 786.2 L2094.5 782.5 L2113.8 786.2 L2120 792.5 L2132.5 785 L2138.8 766.2 L2145 771.2 L2157.5 776.2 L2163.8 772.5 L2170 772.5 L2176.2 763.8 L2195 771.2 L2201.2 773.8 L2213.8 772.5 L2245 747.5 L2251.2 757.5 L2257.5 753.8 L2263.8 758.8 L2270 756.2 L2290 762.5 L2296.2 775 L2302.5 763.8 L2308.8 742.5 L2315 745 L2320 742.5"/>
<path d="M2107.5 807.5 L2120 812.5 L2126.2 820 L2132.5 800 L2138.8 807.5 L2145 820"/>
<path d="M2151.2 820 L2157.5 808.8 L2163.8 812.5 L2170 797.5 L2176.2 795 L2195 806.2 L2201.2 798.8 L2207.5 796.2 L2213.8 798.8 L2220 813.8 L2238.8 803 L2245 820"/>
<path d="M1780 820 L1797.5 830 L1803.8 830.5 L1810 824.5 L1816.2 835 L1822.5 837.5 L1841.2 845.8 L1848.8 847 L1855 843.8 L1861.2 827.5 L1867.5 857.5 L1886.2 838.8 L1892.5 833.8 L1898.8 820"/>
<path d="M1848.8 820 L1855 837.5 L1861.2 835 L1867.5 820"/>
<path d="M1875 820 L1880 863.8 L1898.8 885.5 L1905 858.8 L1911.2 856.2 L1917.5 840 L1923.8 853.8 L1942.5 867 L1948.8 846.2 L1955 828.8 L1961.2 838 L1967.5 839.5 L1987.5 835.5 L1993.8 860 L2000 863.8 L2006.2 856.2 L2012.5 835.5 L2031.2 842.5 L2037.5 837 L2043.8 841.2 L2050 836.2 L2056.2 861.2 L2075 852.5 L2082 831.2 L2088 832.5 L2094.5 843.8 L2101.2 845 L2107.5 845 L2113.8 838.8 L2120 833.8 L2126.2 835 L2132.5 820"/>
<path d="M1892.5 820 L1898.8 830 L1905 820"/>
<path d="M2071.2 820 L2077.5 835 L2082 831.2"/>
<path d="M2135 820 L2153.8 825 L2160 832.5 L2166.2 837.5 L2182.5 850 L2188.8 831.2 L2195 833.8 L2201.2 840 L2207.5 843.8 L2220 848.8 L2226.2 832.5 L2232.5 855 L2238.8 867.5 L2239.8 865.8"/>
<path d="M1680 836.2 L1691.2 846.2 L1697.5 865 L1703.8 859.5 L1710 886.2 L1716.2 866.2 L1735 845 L1741.2 878.8 L1747.5 881.2 L1753.8 890 L1760 893.8 L1785 902.5 L1791.2 907.5 L1797.5 893.8 L1803.8 928.8 L1823.8 942.5 L1830 936.2 L1836.2 918.8 L1842.5 935 L1848.8 942.5 L1867.5 918.8 L1873.8 896.2 L1886.2 926.2 L1892.5 943.8 L1911.2 942.5 L1917.5 939.5 L1923.8 962.5 L1930 957 L1936.2 945 L1942.5 930 L1948.8 934.5 L1955 937.5 L1967.5 962.5 L1975 963.8 L1981.2 942.5 L1993.8 965 L2000 967.5 L2012.5 927.5 L2018.8 931.2 L2025 946.2 L2043.8 969.5 L2050 957 L2056.2 960 L2062.5 975 L2068.8 935 L2088 905 L2101.2 911.2 L2107.5 864.5 L2113.8 857 L2120 860 L2126.2 866.2 L2132.5 891.2 L2138.8 892.5 L2145 881.2 L2151.2 878.8 L2157.5 858.8 L2176.2 865 L2182.5 858.8 L2188.8 845"/>
<path d="M1680 858.8 L1691.2 850 L1697.5 858.8 L1703.8 847.5 L1710 858.8 L1716.2 882.5 L1735 916.2 L1741.2 888.8 L1747.5 912.5 L1753.8 912.5 L1760 935 L1766.2 947.5 L1772.5 958.8 L1778.8 975 L1782.5 992.5 L1785 1010 L1791.2 1022.5 L1797.5 1030 L1803.8 1062.5 L1816.2 1068.8 L1823.8 1065 L1830 1025 L1848.8 1013.8 L1855 1007.5 L1880 1005.5 L1886.2 1023.8 L1892.5 1011.2 L1898.8 1006.2 L1905 992.5 L1923.8 992 L1930 1000 L1936.2 998.8 L1942.5 1012.5 L1967.5 998.8 L1975 992.5 L1981.2 975 L1987.5 967.5 L1993.8 1012.5 L2012.5 1012.5 L2018.8 990 L2025 991.2 L2031.2 1010 L2037.5 1026.2 L2043.8 1037.5 L2050 1082.5 L2062.5 1027.5 L2068.8 1035 L2088 1042 L2094.5 1016.2 L2101.2 1071.2 L2107.5 1050 L2113.8 1041.2 L2126.2 1052.5 L2132.5 1057.5 L2138.8 1098.8 L2151.2 1110 L2157.5 1105 L2176.2 1137.5 L2182.5 1151.2 L2186.2 1180"/>
<path d="M1680 1000 L1685 1007.5 L1697.5 1017.5 L1716.2 1006.2 L1722.5 1017.5 L1728.8 990 L1735 995 L1747.5 990 L1753.8 985 L1760 961.2 L1766.2 957.5 L1772.5 936.2 L1778.8 958.8 L1782.5 995 L1788.8 1095 L1791.2 1120 L1797.5 1171.2 L1801.2 1145 L1803.8 1086.2 L1823.8 1071.2 L1827.5 1037.5 L1830 1023.8"/>
<path d="M1680 1007.5 L1685 1040 L1691.2 1047.5 L1703.8 1058.8 L1710 1023.8 L1716.2 1033.8 L1722.5 1006.2 L1728.8 1015 L1735 1010 L1753.8 985"/>
<path d="M1680 1062.5 L1691.2 1060 L1697.5 1020 L1703.8 1027.5 L1710 1047.5"/>
<path d="M1680 1070 L1685 1110 L1691.2 1120 L1703.8 1095 L1722.5 1089.5 L1728.8 1073.8 L1735 1058.8 L1741.2 1035 L1747.5 1055 L1766.2 1053.8 L1772.5 1052.5 L1778.8 1025 L1782.5 995"/>
<path d="M1722.5 1017.5 L1728.8 1025 L1747.5 1016.2 L1753.8 995 L1760 980 L1766.2 977.5 L1772.5 967.5 L1785 972.5 L1791.2 975 L1816.2 985 L1822.5 952.5 L1830 951.2 L1836.2 953.8 L1855 963.8 L1861.2 981.2 L1867.5 1012.5 L1873.8 1047.5 L1880 1035 L1898.8 1045 L1905 1010 L1911.2 1032.5 L1917.5 1042.5 L1923.8 1017.5 L1930 1027.5 L1936.2 1017.5 L1955 1056.2 L1961.2 1050 L1967.5 1067.5 L1975 1102.5 L1981.2 1067.5 L2000 1027.5 L2006.2 1038.8 L2012.5 1042.5 L2018.8 1005"/>
<path d="M1785 985 L1791.2 992.5 L1803.8 987.5 L1810 992.5 L1816.2 1012.5 L1822.5 1012.5 L1830 1035 L1836.2 1051.2 L1842.5 1057.5 L1855 1015 L1861.2 1017.5 L1880 1010"/>
<path d="M1803.8 1040 L1810 1041.2 L1816.2 1050 L1823.8 1058.8 L1836.2 1071.2 L1842.5 1060 L1848.8 1042.5 L1855 1052.5 L1861.2 1020 L1867.5 1015"/>
<path d="M1842.5 1060 L1848.8 1081.2 L1867.5 1127.5 L1873.8 1077.5 L1880 1051.2 L1886.2 1042.5 L1892.5 1058.8 L1905 1035 L1911.2 1017.5 L1917.5 1007.5 L1923.8 1000"/>
<path d="M1880 1005.5 L1886.2 995 L1892.5 987.5 L1898.8 966.2 L1905 972.5 L1923.8 968.8 L1930 997.5 L1936.2 982.5 L1942.5 972.5 L1948.8 957 L1955 967.5 L1961.2 992.5 L1981.2 982.5 L1987.5 963.8 L2000 965 L2006.2 982.5 L2025 982.5 L2031.2 995 L2037.5 1005 L2043.8 1027.5"/>
<path d="M1930 1000 L1936.2 957.5 L1942.5 930"/>
<path d="M2043.8 969.5 L2062.5 975 L2082 950 L2088 922.5 L2094.5 952.5 L2101.2 970 L2145 933.8 L2163.8 938.8 L2170 947.5 L2176.2 925 L2182.5 902.5 L2188.8 915 L2213.8 926.2 L2220 906.2 L2226.2 892.5 L2232.5 918.8 L2240 909.8"/>
<path d="M2043.8 1037.5 L2050 992.5 L2056.2 977.5 L2075 905 L2082 895 L2101.2 868.8 L2107.5 900 L2120 901.2 L2132.5 872.5 L2138.8 891.2 L2145 880 L2157.5 878.8 L2163.8 872.5 L2188.8 873.8 L2195 860 L2201.2 861.2 L2207.5 895 L2232.5 881.2 L2238.8 857.5 L2239.9 861.3"/>
<path d="M2037.5 1026.2 L2043.8 1046.2 L2050 1050 L2062.5 1025 L2068.8 1060 L2075 1047.5 L2082 1086.2 L2101.2 1105 L2107.5 1100 L2113.8 1083.8 L2120 1105 L2126.2 1116.2 L2145 1107 L2151.2 1093.8 L2163.8 1063.8 L2170 1056.2 L2188.8 1075 L2195 1067.5 L2201.2 1082.5 L2207.5 1102.5 L2213.8 1117.5 L2226.2 1122.5 L2232.5 1125 L2238.8 1123.8 L2240.1 1121.1"/>
<path d="M2075 1060 L2082 1066.2 L2094.5 1078.8 L2120 1085 L2126.2 1067.5 L2132.5 1050 L2138.8 1045 L2157.5 1042.5 L2163.8 1048.8 L2170 1042.5 L2176.2 1037.5 L2182.5 1027.5 L2201.2 1033.2 L2207.5 1039.5 L2213.8 1060 L2226.2 1047.5 L2240.1 1061.4"/>
<path d="M2186.2 1180 L2195 1171.2 L2198.8 1180"/>
<path d="M2201.2 1180 L2220 1145 L2226.2 1140 L2232.5 1085 L2238.8 1078.8 L2240.2 1076.2"/>
<path d="M2320 566.9 L2327.5 571.9 L2333.8 578.8 L2353.1 590 L2359.4 574 L2365.6 574 L2371.2 579.4 L2378.1 574 L2397.5 575.6 L2400.6 560 L2403.1 554.4 L2408.8 562.5 L2416.2 568.8"/>
<path d="M2327.9 650.3 L2346.2 608.8 L2353.1 605 L2365.6 613.1 L2371.2 595.6 L2390.6 594.8 L2397.5 582.5 L2400.6 567.5 L2406.2 565 L2410 560 L2413.8 542.5 L2416.2 535 L2422.5 548.1"/>
<path d="M2320 698.5 L2321.2 700 L2327.5 652.5 L2328.8 649.8"/>
<path d="M2320 743.1 L2340 730.6 L2352.5 711.9 L2359.4 715 L2378.1 710.6 L2384.4 703.8 L2403.1 689.4 L2422.5 700"/>
<path d="M2330.4 810.3 L2339.4 787.5 L2346.2 774.4 L2365.6 780.6 L2371.9 790 L2378.1 781.2 L2387.5 783.1 L2409.4 786.2 L2416.2 795 L2422.5 782.5 L2428.8 792.5"/>
<path d="M2341.7 810.3 L2346.2 798.1 L2353.1 804.4 L2359.4 802.5 L2361.7 809.9"/>
<path d="M2400.7 810.1 L2403.1 803.8 L2409.4 803.8 L2428.8 802.5"/>
<path d="M2327.8 810.3 L2326.2 813.8 L2320 830 L2315 836.2 L2308.8 840 L2302.5 843.1 L2296.2 840.6"/>
<path d="M2320 833.8 L2340 816.2 L2342.7 810.2M2361.3 810.4 L2365.6 825.6 L2378.1 824.4 L2384.4 818.8 L2390.6 822.5 L2396.9 821.9 L2400.9 810.1"/>
<path d="M2384.4 818.8 L2409.4 842.5 L2416.2 824.4 L2422.5 836.9"/>
<path d="M2378.1 824.4 L2375 832.5 L2370 845 L2365.6 855 L2359.4 863.8 L2346.2 871.2 L2327.5 882.5 L2326.2 873.8 L2321.2 848.8 L2315 858.8 L2311.2 890"/>
<path d="M2378.1 833.8 L2409.4 843.8 L2416.2 858.8 L2422.5 863.1 L2428.8 861.2"/>
<path d="M2320 875 L2327.5 866.2 L2340 855 L2359.4 843.1 L2365 852.5 L2370 850 L2375 837.5 L2378.1 833.8"/>
<path d="M2311.2 895 L2327.5 920 L2333.8 903.8 L2340 898.8 L2346.2 892.5 L2353.1 893.1 L2371.9 891.2 L2378.1 903.1 L2384.4 901.9 L2390.6 896.9 L2396.9 895 L2416.2 899.4 L2422.5 890 L2428.8 890.9"/>
<path d="M2290 862.5 L2296.2 865 L2311.2 869.4 L2321.2 878.8 L2327.5 882.5"/>
<path d="M2290 870 L2302.5 886.2 L2311.2 895"/>
<path d="M128.8 730 L131.2 735 L137.5 732.5 L141.2 742.5 L150 732.5 L160 752.5 L167.5 770 L175 775"/>
<path d="M126.9 731.2 L133.8 745 L141.2 751.2 L150 747.5 L152.5 758.8"/>
<path d="M160 752.5 L170 748.8 L177.5 757.5 L187.5 776.2 L192.5 778.8"/>
<path d="M162.5 740 L180 752.5 L187.5 757.5 L197.5 772.5 L203.8 780"/>
<path d="M139.2 729.9 L143.8 736.2 L152.5 730 L157.5 737.5"/>
<path d="M126.2 736.2 L132.5 738.8 L137.5 748.8 L147.5 745"/>
<path d="M266.9 815 L273.1 836.2 L279.5 813.8 L285.8 832.5 L292.1 817.5 L295 838.8"/>
<path d="M125.6 722.5 L132.5 726.2 L141.2 723.8 L150 728.8 L152.5 726.2"/>
<path d="M126.2 727.5 L137.5 730 L147.5 726.2"/>
<path d="M260.6 683.1 L266.2 667.5 L273.1 658.8"/>
<path d="M272.5 685 L279.5 667.5 L285.8 680 L292.1 695 L298.8 696.2"/>
<path d="M330 685 L336.2 671.2 L338.8 680 L348.8 685 L355 695 L361.2 696.2 L367.5 700"/>
<path d="M419.8 663.1 L423.8 657.5 L442.5 645 L449.4 655 L453.8 656.2 L460 640 L481.2 645 L487.5 638.8 L493.8 650 L500 655 L506.2 642.5 L512.5 655 L518.8 642.5 L537.5 641.2 L543.8 638.8 L550 651.2 L556.2 633.8 L562.5 637.5 L583.8 636.2"/>
<path d="M462.5 642.5 L467.5 667.5 L473.8 647.5 L481.2 655 L493.8 667.5 L506.2 673.8 L512.5 666.2 L531.2 655 L537.5 645 L543.8 638.8"/>
<path d="M452.5 675 L456.2 673.8 L475 671.2 L481.2 667.5 L487.5 678.8 L493.8 692.5 L500 700"/>
<path d="M556.2 651.2 L585 652.5 L591.2 647.5 L592.5 635 L593.8 616.2"/>
<path d="M560 661.2 L565 660 L585 655 L591.2 656.2 L600 672.5 L618.8 678.8 L625 672.5 L631.2 655 L637.5 656.2 L643.8 647.5 L659.9 629.4"/>
<path d="M598.8 622.5 L606.2 621.2 L612.5 628.8 L625 621.2"/>
<path d="M419.8 634.3 L422.5 633.8 L428.8 642.5 L437.5 645 L443.1 642.5"/>
<path d="M420.4 645.2 L437.5 646.2 L447.5 650 L453.8 657.5"/>
<path d="M428.8 721.2 L453.8 725 L461.2 706.2 L465 726.2 L470 741.2"/>
<path d="M420.1 737.4 L425 741.2 L430 730 L437.5 741.2 L443.1 736.2 L462.5 736.2 L467.5 708.8 L475 708.8 L481.2 720 L487.5 738.8 L506.2 750 L512.5 735 L518.8 745 L525 715 L543.8 703.8 L550 723.8 L556.2 698.8 L562.5 717.5 L568.8 700 L585 727.5 L587.5 731.2"/>
<path d="M568.8 718.8 L585 741.2 L598.8 741.2 L605 722.5 L612.5 735 L618.8 741.2 L625 723.8 L650 723.8 L659.8 724.9"/>
<path d="M550 733.8 L562.5 726.2 L585 741.2 L592.5 735 L612.5 742.5 L625 732.5 L643.8 746.2 L650 751.2"/>
<path d="M2244.2 819.7 L2245 822.5 L2251.9 838.8 L2258.1 833.8 L2264.4 856.2 L2270.6 847.5 L2277.5 836.2 L2283.1 823.8 L2290 821.9 L2296.2 827.5 L2302.5 841.2 L2308.8 837.5 L2315 840 L2320 830"/>
<path d="M2240 865 L2246.2 855 L2251.9 845.6 L2258.1 850 L2264.4 847.5 L2270.6 841.2 L2276.9 837.5 L2283.1 837.5 L2290 840 L2296.2 841.2 L2302.5 843.1"/>
<path d="M2240 880 L2251.9 878.8 L2264.4 880 L2270.6 870 L2273.8 860 L2277.5 855 L2283.1 837.5"/>
<path d="M2240 870 L2246.2 860 L2251.9 877.5 L2256.2 866.2 L2264.4 858.8 L2276.9 848.8 L2283.1 837.5 L2290 862.5 L2296.2 865 L2311.2 869.4"/>
<path d="M2270.6 867.5 L2283.1 887.5 L2290 873.8 L2302.5 901.2 L2308.8 896.2 L2311.2 890"/>
<path d="M2283.1 840 L2290 870 L2302.5 886.2 L2311.2 895 L2327.5 920"/>
<path d="M2240 912.5 L2251.9 895 L2258.1 917.5 L2264.4 916.9 L2267.6 930.2"/>
<path d="M2268.2 929.9 L2271.2 942.5 L2277.5 957.5 L2296.2 985.8 L2302.5 980.5 L2308.8 950.8 L2315.5 958.8 L2322 987.5 L2340.5 987.5 L2346.8 980.5 L2353 985 L2359.5 988.2 L2365.5 1018.8"/>
<path d="M660 627.5 L665 625 L671.2 636.2 L676.2 647.5 L683.8 657.5 L688.8 643.8 L707.5 639.4 L712.5 655 L720 657.5 L722.5 661.2 L726.2 675 L732.5 682.5 L738.8 691.2 L742.5 675"/>
<path d="M688.8 656.2 L701.2 646.2 L707.5 651.2 L720 656.2"/>
<path d="M742.5 675 L763.8 648.8 L770 646.2 L776.9 628.8 L790 631.2 L808.8 624.4 L815 627.5 L821.2 636.2 L823.8 651.2 L826.2 661.2 L828.8 676.2 L832.5 686.2 L835 693.8 L852.5 698.8 L856.2 706.2 L858.8 715"/>
<path d="M823.8 651.2 L846.2 641.2 L853.8 646.9 L858.8 668.8 L862.5 676.2 L866.2 691.2 L871.2 676.2 L878.8 687.5 L885 695"/>
<path d="M858.8 658.8 L865 656.9 L885 665 L890 656.2 L896.2 653.1 L902.5 661.2 L910 672.5"/>
<path d="M900 620 L903.8 645 L910 672.5 L911.2 690 L916.2 715"/>
<path d="M926.2 656.2 L947.5 653.8 L953.8 650.6 L960 665 L970 665 L980 662.5"/>
<path d="M716.2 710 L720 697.5 L726.2 701.2 L732.5 706.2 L738.8 712.5 L746.2 706.2 L752.5 711.2 L760 712.5 L766.2 707.5"/>
<path d="M742.5 675 L747.5 682.5 L751.2 681.2 L758.8 696.2 L763.8 705 L770 710 L776.2 700 L782.5 695 L795 692.5 L797.5 685 L801.2 671.2 L808.8 667.5 L815 673.8 L821.2 670 L835 676.2 L840 680 L846.2 678.8 L852.5 682.5 L858.8 680 L866.2 691.2"/>
<path d="M757.5 680 L765 668.8 L770 680 L772.5 682.5 L783.8 681.2 L790 668.8 L795 680 L801.2 671.2"/>
<path d="M801.2 687.5 L807.5 698.8 L811.2 705 L823.8 712.5 L835 720 L840 725 L846.2 737.5"/>
<path d="M821.2 685 L827.5 693.8 L835 693.8"/>
<path d="M762.5 695 L767.5 720 L763.8 735"/>
<path d="M660 722.5 L675 726.2 L685 720 L701.2 711.2 L707.5 718.8 L713.8 720"/>
<path d="M672.5 745 L682.5 715 L686.2 695 L688.8 678.8 L691.2 672.5"/>
<path d="M660 745 L665 738.8 L688.8 732.5 L701.2 722.5 L707.5 728.8 L715 731.2 L726.2 737.5 L738.8 732.5 L746.2 735 L752.5 727.5 L760 730 L767.5 730 L807.5 730 L822.5 727.5 L828.8 726.2 L835 735 L846.2 750 L852.5 753.8 L866.2 750 L872.5 747.5 L877.5 727.5 L883.8 731.2"/>
<path d="M667.5 757.5 L671.2 748.8 L688.8 748.8 L695 736.2 L701.2 732.5"/>
<path d="M660 763.8 L666.2 768.8 L677.5 766.2 L701.2 757.5 L710 752.5 L715 748.8"/>
<path d="M660 781.2 L676.2 785 L683.8 781.2 L695 770 L701.2 755 L703.8 745"/>
<path d="M697.5 800 L701.2 783.8 L707.5 778.8 L713.8 757.5 L732.5 757.5 L740 771.2 L746.2 760 L752.5 770 L757.5 781.2 L770 795"/>
<path d="M770 756.2 L776.2 767.5 L783.8 775 L790 766.2 L808.8 777.5 L815 773.8 L827.5 747.5 L835 747.5 L852.5 753.8"/>
<path d="M777.5 800 L783.8 787.5 L790 795 L796.2 780 L801.2 792.5 L808.8 798.8"/>
<path d="M858.8 715 L866.2 720 L872.5 722.5 L877.5 716.2 L885 706.2 L891.2 707.5 L902.5 705 L910 718.8 L916.2 720 L926.2 716.2 L932.5 702.5 L938.8 701.2 L947.5 708.8 L960 710 L972.5 696.2 L980 707.5"/>
<path d="M847.5 728.8 L858.8 720 L866.2 718.8 L885 726.2 L897.5 723.8 L908.8 730 L916.2 732.5 L926.2 727.5 L941.2 732.5 L951.2 723.8 L960 728.8 L980 727.5"/>
<path d="M872.5 722.5 L877.5 745 L883.8 751.2 L891.2 752.5 L897.5 745 L902.5 735 L910 736.2 L916.2 750 L926.2 745 L941.2 755 L947.5 740 L960 746.2 L980 745"/>
<path d="M866.2 765 L877.5 751.2 L885 765 L891.2 793.8 L908.8 793.8 L916.2 782.5 L928.8 791.2 L935 775 L947.5 787.5 L960 800"/>
<path d="M877.5 763.8 L883.8 756.2 L890 763.8 L896.2 768.8 L902.5 757.5 L908.8 745"/>
<path d="M910 690 L916.2 712.5 L926.2 702.5 L932.5 688.8 L941.2 682.5 L951.2 678.8 L957.5 690 L963.8 700 L972.5 695 L980 700"/>
<path d="M941.2 685 L947.5 697.5 L953.8 705 L963.8 712.5 L972.5 726.2 L980 738.8"/>
<path d="M941.2 755 L947.5 752.5 L951.2 770 L960 757.5 L970 756.2 L976.2 770 L980 772.5"/>
<path d="M980 735 L997.5 735 L1003.8 733.1 L1016.2 733.8 L1022.5 735.6 L1035 731.2 L1041.2 733.1 L1048.1 731.2 L1055 733.1 L1061.2 732.5 L1067.5 736.2"/>
<path d="M992.4 726.3 L997.5 737.5 L1000.8 726.4"/>
<path d="M980 740 L991.2 747.5 L997.5 775 L998.8 771.2 L1010 742.5 L1022.5 748.8 L1028.8 753.8 L1035 746.2 L1042.5 747.5 L1048.1 738.8"/>
<path d="M980 752.5 L987.5 765 L997.5 775 L1005 770 L1017.5 762.5"/>
<path d="M980 766.2 L991.2 772.5 L997.5 775"/>
<path d="M1010 757.5 L1016.2 752.5 L1021.2 760 L1022.5 770 L1028.8 785 L1035 780 L1041.2 787.5 L1047.5 785 L1066.2 772.5 L1070 763.8 L1066.2 740"/>
<path d="M1022.5 771.2 L1042.5 777.5 L1047.5 796.2 L1053.8 788.8 L1060 798.8 L1072.5 798.8 L1078.8 760 L1085 747.5 L1096.2 746.2 L1102.5 752.5 L1110 766.2 L1117.5 740 L1137.5 748.8 L1143.8 758.8 L1148.8 762.5 L1155 753.8 L1161.2 755 L1178.8 765 L1191.2 747.5"/>
<path d="M1053.8 737.5 L1055 750 L1060 756.2 L1072.5 761.2 L1078.8 755"/>
<path d="M1066.2 737.5 L1072.5 750 L1080 763.8 L1086.2 776.2 L1092.5 762.5 L1098.8 770 L1105 777.5 L1111.2 781.2 L1117.5 812.5 L1123.8 782.5 L1148.8 802.5 L1155 788.8 L1161.2 787.5 L1178.8 776.2 L1186.2 778.8 L1191.2 765 L1197.5 762.5 L1205 750 L1212.5 756.2 L1217.5 776.2 L1225 778.8 L1230 788.8 L1255 778.8 L1258.8 752.5"/>
<path d="M1078.8 820 L1092.5 812.5 L1103.8 805 L1110 790 L1105 777.5"/>
<path d="M1117.5 740 L1123.8 765 L1141.2 773.8 L1125 781.2"/>
<path d="M1141.2 773.8 L1148.8 762.5"/>
<path d="M1155 753.8 L1148.8 766.2 L1155 783.8 L1172.5 777.5 L1185 767.5"/>
<path d="M1221.2 725.8 L1223.8 728.8 L1228.4 725.9M1254.2 725.8 L1255 727.5 L1258.8 740"/>
<path d="M1191.2 747.5 L1197.5 748.8 L1205 750 L1223.8 742.5 L1230 750 L1236.2 742.5 L1242.5 748.8 L1248.8 741.2 L1255 743.8 L1267.5 740 L1280 738.8 L1285.1 726.4M1287.8 726.2 L1292.5 733.8 L1300 737.5"/>
<path d="M1205 750 L1211.2 765 L1212.5 785 L1225 791.2 L1236.2 801.2 L1242.5 795 L1248.8 796.2 L1256.2 787.5 L1258.8 777.5"/>
<path d="M1258.8 750 L1267.5 747.5 L1280 750 L1292.5 748.8 L1300 752.5"/>
<path d="M1258.8 752.5 L1267.5 766.2 L1275 775 L1286.2 771.2 L1292.5 765 L1300 766.2"/>
<path d="M1267.5 766.2 L1280 755 L1286.2 765"/>
<path d="M980 817.5 L1003.8 783.8 L1010 795 L1028.8 820"/>
<path d="M1030 820 L1035 811.2 L1041.2 820"/>
<path d="M1045 820 L1047.5 805 L1053.8 800 L1060 806.2 L1072.5 810 L1078.8 820"/>
<path d="M1117.5 812.5 L1121.2 802.5 L1130 815 L1141.2 820"/>
<path d="M1191.2 820 L1198.8 807.5 L1218.8 798.8 L1225 808.8 L1236.2 805 L1242.5 813.8 L1261.2 818.8 L1268.8 808.8 L1275 820"/>
<path d="M1093.8 725.8 L1092.5 737.5 L1083.8 741.2 L1080 750"/>
<path d="M1147.8 725.8 L1148.8 727.5 L1161.2 740 L1167.5 736.2 L1169.5 725.6"/>
<path d="M1181.8 725.7 L1186.2 736.2 L1192.5 736.2 L1197.2 725.9"/>
<path d="M1069.5 725.7 L1070 727.5 L1075 740 L1080 747.5"/>
<path d="M1251.6 725.7 L1252.5 727.5 L1258.8 740 L1261.2 750"/>
<path d="M1067.5 726.2 L1070 735"/>
<path d="M998.8 726.2 L997.5 737.5"/>
</g>
<polyline class="p" points="133.8,715 141.2,716.2 159.2,702.5 166.2,712.5 172.5,733.8 178.8,733.8 185,748.8 203.8,743.8 216.2,718.8 222.5,723.8 248.8,698.8 253.8,698.8 260,693.8 266.2,692.5 273,687.5 292,717.5 311.2,692.5 316.2,707.5 336.2,721.2 355,690 361.2,687.5 380,691.2 393.8,698.8 401.2,697.5 406.2,686.2 425,688.8 431.2,687.5 437,701.2 443,682.5 448.8,686.8 467.5,685.8 473.8,687.5 487,691.2 493.8,710 525,703.8 537.5,666.2 543.8,673.8 562.5,680 568.8,672.5 576.2,683.2 582.5,682.5 588.8,671.2 606.2,661.2 613,665 620,661.2 626.2,665 653.8,673.8 657.5,673.8 663.8,677.5 670,675 676.2,691.2 696.2,685 702.5,693.8 708.8,726.2 715,718.8 720,751.2 746.2,802.5 752.5,763.8 758.8,772.5 765,755 783.8,725 790,745 796.2,726.2 833.8,706.2 841.2,713.8 847.5,725 853.8,715 878.8,700 885,703.8 897.5,687.5 915,678.8 922.5,670 928.8,677.5 935,671.2 941.2,670.8 966.2,680 973.8,677.5 978.8,655 1003.8,661.2 1010,647.5 1023.8,653.8 1028.8,637.5 1047.5,641.2 1055,650 1061.2,650 1067,636.2 1073.2,655 1092.5,642.5 1098.8,643.8 1105,640 1111.2,630.5 1117.5,636.2 1136.2,629.5 1142.5,628.8 1148.8,630 1156.2,636.2 1162.5,650 1187.5,655.5 1193.8,656.2 1200,657.5 1225,642.5 1231.2,630 1237.5,632.5 1243.8,643.8 1268.8,632 1275,621.2 1287.5,612.5 1295,618.8 1312.5,641.2 1320,636.2 1326.2,637.5 1332.5,631.2 1338.8,650 1357.5,647 1363.8,648 1370,640 1376.2,638.8 1382.5,630 1407.5,620 1413.8,612.5 1426.2,633.8 1445,646.2 1451.2,643 1464.5,672 1488.8,650 1496.2,647 1502.5,633.8 1508.8,630.8 1515,632.5 1533.8,633.8 1540,617.5 1546.2,612 1552.5,625 1558.8,618.8 1577.5,624.5 1584.2,629.2 1590.5,625 1596.8,632.5 1603,605.8 1621.2,620 1628,621.2 1635,628 1640.5,628.8 1647.5,623 1666.2,621.2 1672.5,628.8 1678.8,626.2 1685.5,636.2 1691.2,618.8 1710,608.8 1716.2,615 1722.5,610 1728.8,598.8 1735,601.8 1754.5,598.8 1760,598.2 1766.2,599.5 1785,598.2 1798.8,597 1804.5,590 1817,608.8 1823.8,598 1842.5,592 1848.8,591.2 1855,587.5 1861.2,595 1868,590 1886.2,584.5 1893,588.8 1899.2,581.2 1906.2,587.5 1912,612.5 1930,595.8 1937,601.2 1943.8,598.2 1950,598.2 1956.2,600.8 1974.5,591.2 1981.2,605 1987.5,604.5 2000,592.5 2006.2,591.2 2017.5,589.2 2025,583.2 2032.5,586.2 2038.8,592.5 2045,597 2063.8,595 2069.5,615 2075.8,603.8 2082.5,600 2106.2,582.5 2112.5,582 2120,575.8 2126.2,573.2 2132.5,576.2 2151.2,583.8 2157.5,583.2 2163.8,586.2 2171.2,591.2 2176.2,601.2 2195,594.5 2207.5,578.8 2214.5,582.5 2221.2,578.2 2240,577 2246.2,578.8 2252.5,572.5 2258.8,568.8 2265,563.8 2283.8,573 2290,574.2 2296.2,570 2302.5,558.2 2308.8,560 2328,552.5 2335,551.2 2346.2,548.8 2353,551.2 2372.5,547.5 2385,542 2391.2,542 2416.2,543 2421.2,536.2 2428.8,533"/>
</svg>
<h1><span class="t" style="left:413.67px;top:24.07px;font-size:68.87px;transform:scaleX(0.9359)">NAD</span> <span class="t" style="left:572.48px;top:24.07px;font-size:68.87px;transform:scaleX(0.9377)">strengthening</span> <span class="t" style="left:1020.85px;top:24.07px;font-size:68.87px;transform:scaleX(0.8358)">vs</span> <span class="t" style="left:1106.07px;top:24.07px;font-size:68.87px;transform:scaleX(0.9483)">USD</span> <span class="t" style="left:1264.23px;top:24.07px;font-size:68.87px;transform:scaleX(0.9116)">through</span> <span class="t" style="left:1520.44px;top:24.07px;font-size:68.87px;transform:scaleX(0.9506)">the</span> <span class="t" style="left:1640.57px;top:24.07px;font-size:68.87px;transform:scaleX(0.9059)">year,</span> <span class="t" style="left:1803.73px;top:24.07px;font-size:68.87px;transform:scaleX(1.0508)">2011-2025</span></h1>
<div class="t yl" style="left:4.17px;top:67.23px;font-size:35.89px;transform:scaleX(0.9869)">+40%</div>
<div class="t yl" style="left:4.27px;top:227.26px;font-size:35.89px;transform:scaleX(0.9858)">+30%</div>
<div class="t yl" style="left:3.76px;top:387.29px;font-size:35.89px;transform:scaleX(0.9914)">+20%</div>
<div class="t yl" style="left:3.76px;top:547.32px;font-size:35.89px;transform:scaleX(0.9914)">+10%</div>
<div class="t yl" style="left:44.84px;top:707.35px;font-size:35.89px;transform:scaleX(0.9807)">0%</div>
<div class="t yl" style="left:15.97px;top:867.38px;font-size:35.89px;transform:scaleX(0.9511)">-10%</div>
<div class="t yl" style="left:15.97px;top:1027.41px;font-size:35.89px;transform:scaleX(0.9511)">-20%</div>
<div class="t yl" style="left:15.97px;top:1187.44px;font-size:35.89px;transform:scaleX(0.9511)">-30%</div>
<div class="t yl" style="left:15.97px;top:1347.47px;font-size:35.89px;transform:scaleX(0.9511)">-40%</div>
<div class="t xl" style="left:97.75px;top:1394.86px;font-size:39.06px;transform:scaleX(0.9703)">Jan</div>
<div class="t xl" style="left:291.65px;top:1394.86px;font-size:39.06px;transform:scaleX(0.9580)">Feb</div>
<div class="t xl" style="left:471.16px;top:1394.86px;font-size:39.06px;transform:scaleX(1.0342)">Mar</div>
<div class="t xl" style="left:671.7px;top:1394.86px;font-size:39.06px;transform:scaleX(1.0025)">Apr</div>
<div class="t xl" style="left:853.78px;top:1394.86px;font-size:39.06px;transform:scaleX(0.9967)">May</div>
<div class="t xl" style="left:1054.73px;top:1394.86px;font-size:39.06px;transform:scaleX(0.9954)">Jun</div>
<div class="t xl" style="left:1249.98px;top:1394.86px;font-size:39.06px;transform:scaleX(1.0018)">Jul</div>
<div class="t xl" style="left:1437.7px;top:1394.86px;font-size:39.06px;transform:scaleX(0.9864)">Aug</div>
<div class="t xl" style="left:1632.6px;top:1394.86px;font-size:39.06px;transform:scaleX(0.9641)">Sep</div>
<div class="t xl" style="left:1825.17px;top:1394.86px;font-size:39.06px;transform:scaleX(0.9824)">Oct</div>
<div class="t xl" style="left:2016.91px;top:1394.86px;font-size:39.06px;transform:scaleX(0.9570)">Nov</div>
<div class="t xl" style="left:2206.42px;top:1394.86px;font-size:39.06px;transform:scaleX(0.9526)">Dec</div>
<div class="t lab" style="left:2445.24px;top:510.03px;font-size:45.33px;transform:scaleX(1.0455)">2025</div>
</body></html>
